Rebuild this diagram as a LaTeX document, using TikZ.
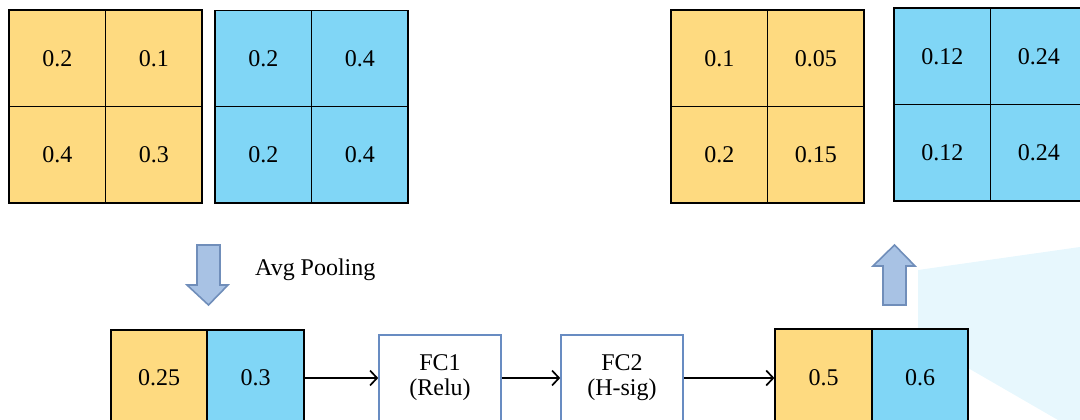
\documentclass[tikz,border=0pt]{standalone}
\usepackage{fontspec}
\setmainfont{Liberation Serif}
\usetikzlibrary{arrows.meta}
\definecolor{cyel}{RGB}{254,218,128}
\definecolor{cblu}{RGB}{128,214,246}
\definecolor{fcborder}{RGB}{104,140,194}
\definecolor{barrowfill}{RGB}{168,194,228}
\definecolor{barrowdraw}{RGB}{112,142,186}
\definecolor{haze}{RGB}{231,247,253}
\tikzset{
  cell/.style={draw=black, line width=1.7pt, minimum width=96.5pt, minimum height=96.5pt, inner sep=0pt, font=\fontsize{24}{27}\selectfont},
  ycell/.style={cell, fill=cyel},
  bcell/.style={cell, fill=cblu},
  fcbox/.style={draw=fcborder, line width=1.6pt, fill=white, minimum width=122pt, minimum height=86pt, align=center, font=\fontsize{24}{25}\selectfont},
  flow/.style={draw=black, line width=1.7pt, -{Straight Barb[length=7pt,width=15pt,line width=1.7pt]}},
  blockarrow/.style={fill=barrowfill, draw=barrowdraw, line width=1.6pt, line join=miter},
}
\begin{document}
\begin{tikzpicture}[x=1pt,y=-1pt]
\useasboundingbox (0,0) rectangle (1080,420);
\clip (0,0) rectangle (1080,420);
% faint background haze
\fill[haze] (918,270) -- (1080,247) -- (1080,420) -- (1058,420) -- (968,368) -- (968,330) -- (918,330) -- cycle;
% left input grids
\node[ycell] (ly11) at (57.25,58.25) {0.2};
\node[ycell] (ly12) at (153.75,58.25) {0.1};
\node[ycell] (ly21) at (57.25,154.75) {0.4};
\node[ycell] (ly22) at (153.75,154.75) {0.3};
\node[bcell] (lb11) at (263.25,58.75) {0.2};
\node[bcell] (lb12) at (359.75,58.75) {0.4};
\node[bcell] (lb21) at (263.25,154.75) {0.2};
\node[bcell] (lb22) at (359.75,154.75) {0.4};
% right output grids
\node[ycell] (ry11) at (719.25,58.25) {0.1};
\node[ycell] (ry12) at (815.75,58.25) {0.05};
\node[ycell] (ry21) at (719.25,154.75) {0.2};
\node[ycell] (ry22) at (815.75,154.75) {0.15};
\node[bcell] (rb11) at (942.25,56.25) {0.12};
\node[bcell] (rb12) at (1038.75,56.25) {0.24};
\node[bcell] (rb21) at (942.25,152.75) {0.12};
\node[bcell] (rb22) at (1038.75,152.75) {0.24};
% bottom row
\node[ycell] (py) at (159,378) {0.25};
\node[bcell] (pb) at (255.5,378) {0.3};
\node[fcbox] (fc1) at (440,378) {FC1\\(Relu)};
\node[fcbox] (fc2) at (622,378) {FC2\\(H-sig)};
\node[ycell] (sy) at (823.5,377.5) {0.5};
\node[bcell] (sb) at (920,377.5) {0.6};
% connectors
\draw[flow] (pb.east) -- (pb.east -| fc1.west);
\draw[flow] (fc1.east) -- (fc1.east -| fc2.west);
\draw[flow] (fc2.east) -- (fc2.east -| sy.west);
% block arrows
\draw[blockarrow] (197,245) -- (220,245) -- (220,285) -- (228,285) -- (208.5,305) -- (187,285) -- (197,285) -- cycle;
\draw[blockarrow] (883,305) -- (906,305) -- (906,266) -- (915,266) -- (894.5,245) -- (873,266) -- (883,266) -- cycle;
\node[font=\fontsize{24}{27}\selectfont, anchor=west, inner sep=0pt] (avg) at (255,270) {Avg Pooling};
\end{tikzpicture}
\end{document}
